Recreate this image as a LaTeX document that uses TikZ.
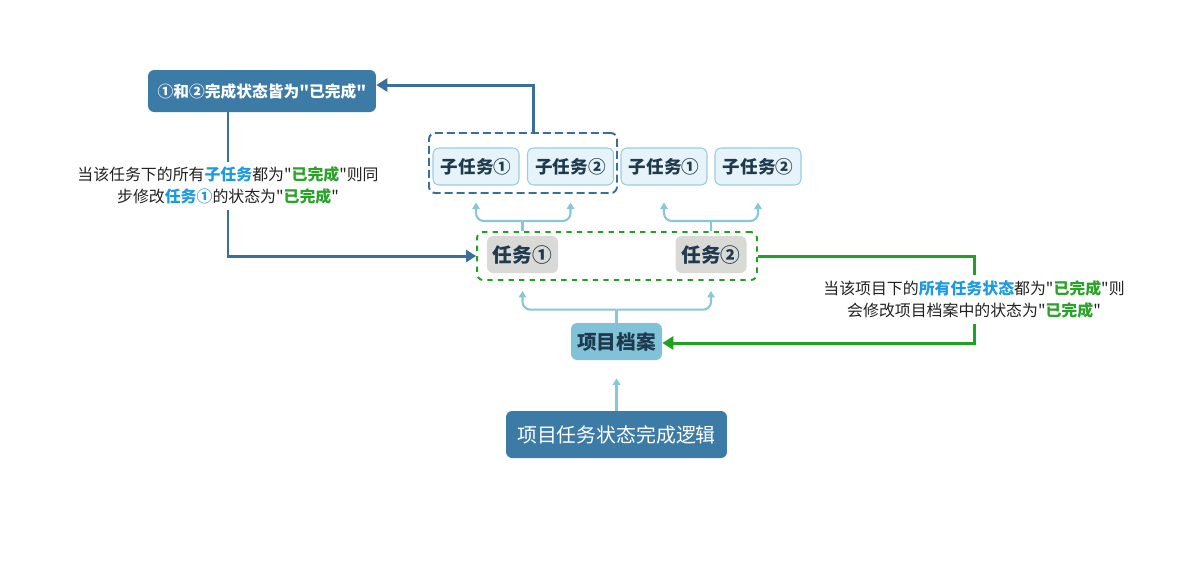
\documentclass[tikz,border=0pt]{standalone}
\usepackage{fontspec}
\setmainfont{Noto Sans CJK SC}[Ligatures=TeXOff]
\usetikzlibrary{positioning, arrows.meta}

\definecolor{deepblue}{HTML}{3B7BA5}
\definecolor{paleblue}{HTML}{80C2D8}
\definecolor{linkblue}{HTML}{88C6DA}
\definecolor{subfill}{HTML}{E6F3F8}
\definecolor{subedge}{HTML}{98CEE0}
\definecolor{taskgray}{HTML}{D9DAD5}
\definecolor{navytext}{HTML}{1F3A4E}
\definecolor{grpblue}{HTML}{3A6F99}
\definecolor{okgreen}{HTML}{1FA21F}
\definecolor{hlblue}{HTML}{1E9BE0}
\definecolor{hlgreen}{HTML}{2AA32A}
\definecolor{notetext}{HTML}{222222}
\newcommand{\hlb}[1]{\textcolor{hlblue}{\bfseries #1}}
\newcommand{\hlg}[1]{\textcolor{hlgreen}{\bfseries #1}}

\begin{document}
\begin{tikzpicture}[x=0.02cm, y=-0.02cm,
    box/.style={rounded corners=3.5pt, inner xsep=0pt, minimum height=0.74cm, text=navytext, font=\bfseries\fontsize{11.2}{13}\selectfont},
    subbox/.style={box, fill=subfill, draw=subedge, line width=0.6pt, minimum width=1.72cm, font=\bfseries\fontsize{10}{12}\selectfont},
    taskbox/.style={box, fill=taskgray, minimum width=1.42cm},
    pabox/.style={box, fill=paleblue, minimum width=1.82cm},
    darkbox/.style={rounded corners=3.5pt, inner xsep=0pt, fill=deepblue, text=white},
    grp/.style={draw, dashed, line width=1.1pt, rounded corners=3.5pt, inner sep=0pt},
    link/.style={draw=linkblue, line width=1.2pt, rounded corners=4.5pt},
    linkarrow/.style={link, -{Triangle[length=0.13cm, width=0.15cm]}},
    note/.style={fill=white, text=notetext, align=center, inner xsep=1pt, inner ysep=3pt, font=\fontsize{9.05}{12.5}\selectfont}
]
    \useasboundingbox (0,0) rectangle (1182,583);

    % main nodes
    \node[darkbox, minimum width=4.42cm, minimum height=0.94cm, font=\fontsize{11.3}{13}\selectfont] (root) at (616.5,434.5) {项目任务状态完成逻辑};
    \node[pabox] (pa) at (616.5,341.5) {项目档案};
    \node[taskbox] (t1) at (522.5,254.5) {任务①};
    \node[taskbox] (t2) at (711,254.5) {任务②};
    \node[subbox] (s11) at (476,166.5) {子任务①};
    \node[subbox] (s12) at (570.5,166.5) {子任务②};
    \node[subbox] (s21) at (664,166.5) {子任务①};
    \node[subbox] (s22) at (758,166.5) {子任务②};
    \node[darkbox, minimum width=4.56cm, minimum height=0.84cm, font=\bfseries\fontsize{8.95}{12}\selectfont] (done) at (262,91) {①和②完成状态皆为"已完成"};

    % dashed groups
    \node[grp, draw=okgreen, minimum width=5.6cm, minimum height=0.96cm] (tg) at (617,256) {};
    \node[grp, draw=grpblue, minimum width=3.76cm, minimum height=1.2cm, dash pattern=on 0.16cm off 0.08cm] (sg) at (523,163) {};

    % tree links
    \draw[linkarrow, shorten >=0.36cm] (root.north) -- (pa.south);
    \draw[link] (pa.north) -- ++(0,-13) coordinate (pj);
    \draw[linkarrow, shorten >=0.2cm] (pj) -| (tg.south -| t1);
    \draw[linkarrow, shorten >=0.2cm] (pj) -| (tg.south -| t2);
    \draw[link] (tg.north -| t1) -- ++(0,-10) coordinate (j1);
    \draw[linkarrow, shorten >=0.34cm] (j1) -| (s11.south);
    \draw[linkarrow, shorten >=0.34cm] (j1) -| (s12.south);
    \draw[link] (tg.north -| t2) -- ++(0,-10) coordinate (j2);
    \draw[linkarrow, shorten >=0.34cm] (j2) -| (s21.south);
    \draw[linkarrow, shorten >=0.34cm] (j2) -| (s22.south);

    % status feedback
    \draw[grpblue, line width=1.7pt, -{Triangle[length=0.22cm, width=0.26cm]}] (sg.north -| 533,0) |- (done.east |- 0,85);
    \draw[grpblue, line width=1.7pt, -{Triangle[length=0.2cm, width=0.24cm]}] (done.south -| 228,0) |- (tg.west)
        node[note, pos=0.255] {当该任务下的所有\hlb{子任务}都为"\hlg{已完成}"则同\\步修改\hlb{任务①}的状态为"\hlg{已完成}"};
    \draw[okgreen, line width=1.7pt, -{Triangle[length=0.22cm, width=0.26cm]}] (tg.east) -| (974,343) coordinate (gc) -- (pa.east |- gc);
    \node[note] (gnote) at (974,299.5) {当该项目下的\hlb{所有任务状态}都为"\hlg{已完成}"则\\会修改项目档案中的状态为"\hlg{已完成}"};
\end{tikzpicture}
\end{document}
